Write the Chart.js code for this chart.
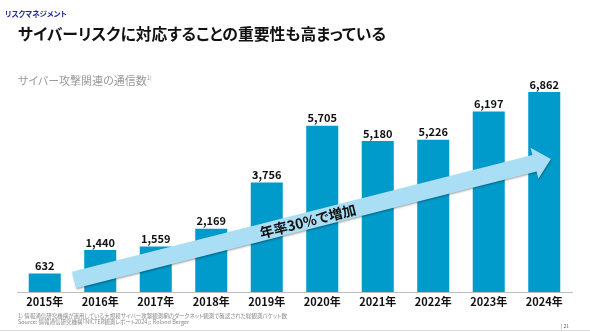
<!DOCTYPE html>
<html>
<head>
<meta charset="utf-8">
<script src="https://cdn.jsdelivr.net/npm/chart.js@4/dist/chart.umd.min.js"></script>
<style>
  html, body { margin: 0; padding: 0; background: #fff; }
  body { width: 590px; height: 332px; position: relative; overflow: hidden;
         font-family: "Noto Sans CJK JP", "Noto Sans", sans-serif; font-feature-settings: "palt"; }
  #wrap { position: absolute; left: 0; top: 0; width: 590px; height: 332px; }
  .section { position: absolute; left: 5px; top: 8px; font-size: 7.5px; font-weight: bold; color: #1f2a9b; }
  .title { position: absolute; left: 18px; top: 22px; font-size: 15.8px; font-weight: bold; color: #111; white-space: nowrap; }
  .subtitle { position: absolute; left: 18px; top: 72px; font-size: 11px; color: #999; white-space: nowrap; }
  .subtitle sup { font-size: 5.5px; vertical-align: 5px; }
  .note { position: absolute; left: 18px; font-size: 5.5px; color: #888; white-space: nowrap; }
  .page { position: absolute; left: 561px; top: 322px; font-size: 5px; color: #666; }
  .rule { position: absolute; left: 0; top: 330px; width: 590px; height: 1px; background: #ddd; }
</style>
</head>
<body>
<div id="wrap"><canvas id="chart" width="590" height="332"></canvas></div>
<div class="section">リスクマネジメント</div>
<div class="title">サイバーリスクに対応することの重要性も高まっている</div>
<div class="subtitle">サイバー攻撃関連の通信数<sup>1)</sup></div>
<div class="note" style="top:312px">1) 情報通信研究機構が運用している大規模サイバー攻撃観測網のダークネット観測で確認された総観測パケット数</div>
<div class="note" style="top:318px">Source: 情報通信研究機構「NICTER観測レポート2024」; Roland Berger</div>
<div class="page">|&nbsp;21</div>
<div class="rule"></div>
<script>
var years = ['2015年', '2016年', '2017年', '2018年', '2019年', '2020年', '2021年', '2022年', '2023年', '2024年'];
var packets = [632, 1440, 1559, 2169, 3756, 5705, 5180, 5226, 6197, 6862];
var arrowText = '年率30%で増加';

var barColor = '#009bcb';
var arrowColor = '#a9def5';

// 棒の上の数値
var valueLabels = {
  id: 'valueLabels',
  afterDatasetsDraw: function (chart) {
    var ctx = chart.ctx;
    var meta = chart.getDatasetMeta(0);
    ctx.save();
    ctx.font = 'bold 11px "Noto Sans CJK JP", "Noto Sans", sans-serif';
    ctx.fillStyle = '#111';
    ctx.textAlign = 'center';
    ctx.textBaseline = 'bottom';
    meta.data.forEach(function (bar, i) {
      ctx.fillText(packets[i].toLocaleString('en-US'), bar.x, bar.y - 2);
    });
    ctx.restore();
  }
};

// 成長率の矢印
var growthArrow = {
  id: 'growthArrow',
  afterDatasetsDraw: function (chart) {
    var ctx = chart.ctx;
    var a = chart.chartArea;
    var w = a.right - a.left;
    var x0 = a.left + 0.103 * w, y0 = a.bottom - 12;
    var x1 = a.left + 0.962 * w, y1 = a.bottom - 133;
    var ang = Math.atan2(y1 - y0, x1 - x0);
    var len = Math.hypot(x1 - x0, y1 - y0);
    var half = 8.5, headHalf = 16, headLen = 17;

    ctx.save();
    ctx.translate(x0, y0);
    ctx.rotate(ang);
    ctx.shadowColor = 'rgba(0,0,0,0.35)';
    ctx.shadowBlur = 2;
    ctx.shadowOffsetX = 0.5;
    ctx.shadowOffsetY = 1.2;
    ctx.fillStyle = arrowColor;
    ctx.beginPath();
    ctx.moveTo(0, -half);
    ctx.lineTo(len - headLen, -half);
    ctx.lineTo(len - headLen, -headHalf);
    ctx.lineTo(len, 0);
    ctx.lineTo(len - headLen, headHalf);
    ctx.lineTo(len - headLen, half);
    ctx.lineTo(0, half);
    ctx.closePath();
    ctx.fill();
    ctx.shadowColor = 'transparent';

    ctx.font = 'bold 14px "Noto Sans CJK JP", "Noto Sans", sans-serif';
    ctx.fillStyle = '#111';
    ctx.textAlign = 'center';
    ctx.textBaseline = 'middle';
    ctx.fillText(arrowText, len * 0.49, 0.5);
    ctx.restore();
  }
};

var ctx = document.getElementById('chart').getContext('2d');
var myChart = new Chart(ctx, {
  type: 'bar',
  data: {
    labels: years,
    datasets: [{
      data: packets,
      backgroundColor: barColor,
      borderWidth: 0,
      categoryPercentage: 1,
      barPercentage: 0.577
    }]
  },
  options: {
    responsive: false,
    animation: false,
    events: [],
    layout: { padding: { left: 17, right: 18, top: 88, bottom: 0 } },
    plugins: {
      legend: { display: false },
      tooltip: { enabled: false }
    },
    scales: {
      x: {
        grid: { display: false, drawTicks: false },
        border: { display: true, color: '#bdbdbd', width: 1 },
        ticks: {
          color: '#111',
          padding: 3,
          font: { family: '"Noto Sans CJK JP", "Noto Sans", sans-serif', size: 11, weight: 'bold' }
        },
        afterFit: function (scale) { scale.height = 40; }
      },
      y: {
        display: false,
        min: 0,
        max: 7000
      }
    }
  },
  plugins: [valueLabels, growthArrow]
});
</script>
</body>
</html>
